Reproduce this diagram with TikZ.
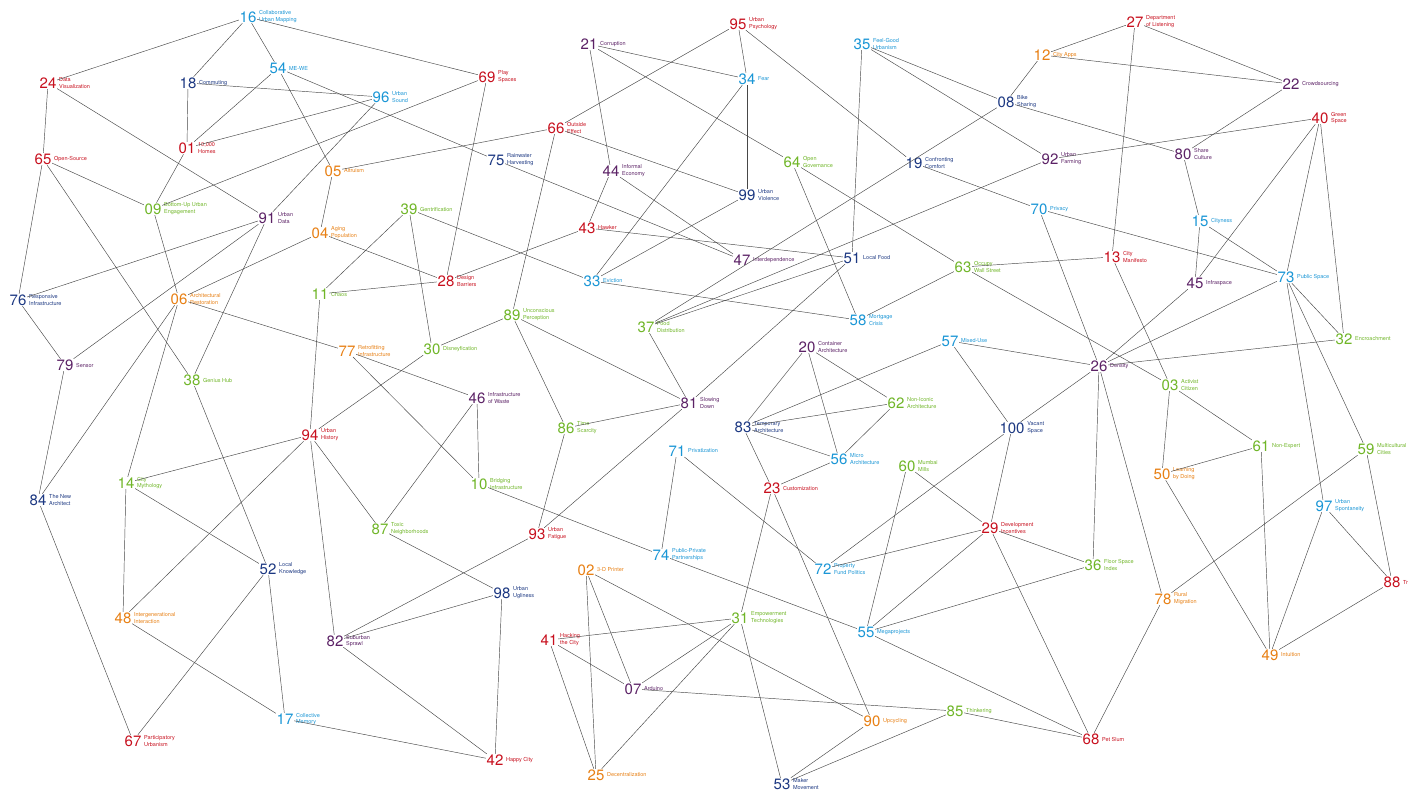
\documentclass[tikz,border=0pt]{standalone}
\usepackage{fontspec}
\setmainfont{TeX Gyre Heros}
\usetikzlibrary{positioning}
\definecolor{urbred}{RGB}{200,16,30}
\definecolor{urborange}{RGB}{232,128,20}
\definecolor{urbgreen}{RGB}{112,182,40}
\definecolor{urbcyan}{RGB}{26,150,214}
\definecolor{urbnavy}{RGB}{28,56,130}
\definecolor{urbpurple}{RGB}{92,34,102}
\newcommand{\trendnum}{\fontsize{15}{15}\selectfont}
\newcommand{\trendtag}{\fontsize{5.5}{6.9}\selectfont}
\tikzset{
  trend/.style={font=\trendnum, text=#1, inner sep=0.6pt},
  tag/.style={font=\trendtag, text=#1, align=left, inner sep=0pt, anchor=west},
  link/.style={draw=black!72, line width=0.45pt}
}

\begin{document}
\begin{tikzpicture}[x=1pt,y=-1pt]
  \useasboundingbox (0,0) rectangle (1409,791);
  \fill[white] (0,0) rectangle (1409,791);
  % trends
  \foreach \id/\x/\y/\c/\t in {
    01/187/148/urbred/{10,000\\Homes}, 02/586/570/urborange/{3-D Printer},
    03/1170/385/urbgreen/{Activist\\Citizen}, 04/320/233/urborange/{Aging\\Population},
    05/333/171/urborange/{Altruism}, 06/179/299/urborange/{Architectural\\Restoration},
    07/633/689/urbpurple/{Arduino}, 08/1006/102/urbnavy/{Bike\\Sharing},
    09/153/209/urbgreen/{Bottom-Up Urban\\Engagement}, 10/479/484/urbgreen/{Bridging\\Infrastructure},
    11/320/294/urbgreen/{Chaos}, 12/1042/55/urborange/{City Apps},
    13/1112/257/urbred/{City\\Manifesto}, 14/126/483/urbgreen/{City\\Mythology},
    15/1200/221/urbcyan/{Cityness}, 16/248/17/urbcyan/{Collaborative\\Urban Mapping},
    17/285/719/urbcyan/{Collective\\Memory}, 18/188/83/urbnavy/{Commuting},
    19/914/163/urbnavy/{Confronting\\Comfort}, 20/807/347/urbpurple/{Container\\Architecture},
    21/589/44/urbpurple/{Corruption}, 22/1291/84/urbpurple/{Crowdsourcing},
    23/772/488/urbred/{Customization}, 24/48/83/urbred/{Data\\Visualization},
    25/596/775/urborange/{Decentralization}, 26/1099/366/urbpurple/{Density},
    27/1135/22/urbred/{Department\\of Listening}, 28/446/281/urbred/{Design\\Barriers},
    29/990/528/urbred/{Development\\Incentives}, 30/432/349/urbgreen/{Disneyfication},
    31/740/618/urbgreen/{Empowerment\\Technologies}, 32/1344/339/urbgreen/{Encroachment},
    33/592/281/urbcyan/{Eviction}, 34/747/79/urbcyan/{Fear},
    35/862/44/urbcyan/{Feel-Good\\Urbanism}, 36/1093/565/urbgreen/{Floor Space\\Index},
    37/646/327/urbgreen/{Food\\Distribution}, 38/192/380/urbgreen/{Genius Hub},
    39/409/209/urbgreen/{Gentrification}, 40/1320/118/urbred/{Green\\Space},
    41/549/640/urbred/{Hacking\\the City}, 42/495/760/urbred/{Happy City},
    43/587/228/urbred/{Hawker}, 44/611/171/urbpurple/{Informal\\Economy},
    45/1195/283/urbpurple/{Infraspace}, 46/477/398/urbpurple/{Infrastructure\\of Waste},
    47/742/260/urbpurple/{Interdependence}, 48/123/618/urborange/{Intergenerational\\Interaction},
    49/1270/655/urborange/{Intuition}, 50/1162/474/urborange/{Learning\\by Doing},
    51/852/258/urbnavy/{Local Food}, 52/268/569/urbnavy/{Local\\Knowledge},
    53/782/784/urbnavy/{Maker\\Movement}, 54/278/68/urbcyan/{ME-WE},
    55/866/632/urbcyan/{Megaprojects}, 56/839/459/urbcyan/{Micro\\Architecture},
    57/950/341/urbcyan/{Mixed-Use}, 58/858/320/urbcyan/{Mortgage\\Crisis},
    59/1366/449/urbgreen/{Multicultural\\Cities}, 60/907/466/urbgreen/{Mumbai\\Mills},
    61/1261/446/urbgreen/{Non-Expert}, 62/896/403/urbgreen/{Non-Iconic\\Architecture},
    63/963/267/urbgreen/{Occupy\\Wall Street}, 64/792/162/urbgreen/{Open\\Governance},
    65/43/159/urbred/{Open-Source}, 66/556/128/urbred/{Outside\\Effect},
    67/133/741/urbred/{Participatory\\Urbanism}, 68/1091/739/urbred/{Pet Slum},
    69/487/77/urbred/{Play\\Spaces}, 70/1039/209/urbcyan/{Privacy},
    71/677/451/urbcyan/{Privatization}, 72/823/569/urbcyan/{Property\\Fund Politics},
    73/1286/277/urbcyan/{Public Space}, 74/661/555/urbcyan/{Public-Private\\Partnerships},
    75/496/160/urbnavy/{Rainwater\\Harvesting}, 76/18/300/urbnavy/{Responsive\\Infrastructure},
    77/347/351/urborange/{Retrofitting\\Infrastructure}, 78/1163/599/urborange/{Rural\\Migration},
    79/65/365/urbpurple/{Sensor}, 80/1183/154/urbpurple/{Share\\Culture},
    81/689/403/urbpurple/{Slowing\\Down}, 82/335/641/urbpurple/{Suburban\\Sprawl},
    83/743/427/urbnavy/{Temporary\\Architecture}, 84/38/500/urbnavy/{The New\\Architect},
    85/955/711/urbgreen/{Thinkering}, 86/566/428/urbgreen/{Time\\Scarcity},
    87/380/529/urbgreen/{Toxic\\Neighborhoods}, 88/1392/582/urbred/{Tr},
    89/512/315/urbgreen/{Unconscious\\Perception}, 90/872/721/urborange/{Upcycling},
    91/267/218/urbpurple/{Urban\\Data}, 92/1050/159/urbpurple/{Urban\\Farming},
    93/537/534/urbred/{Urban\\Fatigue}, 94/310/435/urbred/{Urban\\History},
    95/738/24/urbred/{Urban\\Psychology}, 96/381/97/urbcyan/{Urban\\Sound},
    97/1324/506/urbcyan/{Urban\\Spontaneity}, 98/502/593/urbnavy/{Urban\\Ugliness},
    99/747/195/urbnavy/{Urban\\Violence}, 100/1012/428/urbnavy/{Vacant\\Space}}
  {
    \node[trend=\c] (n\id) at (\x,\y) {\id};
    \node[tag=\c] at ([xshift=1.8pt]n\id.east) {\t};
  }
  % links
  \foreach \a/\b in {16/24, 16/18, 16/54, 16/69, 24/65, 24/91, 18/01, 18/96,
    54/01, 54/75, 54/05, 01/96, 01/09, 65/09, 65/38, 65/76, 09/69, 09/06,
    91/96, 91/76, 91/79, 91/38, 76/79, 79/84, 84/06, 84/67, 06/04, 06/77, 06/14,
    38/52, 11/94, 94/14, 94/48, 94/82, 94/87, 94/30, 14/48, 14/52,
    52/67, 52/17, 48/17, 17/42, 82/93, 82/98, 82/42, 87/98, 98/42,
    74/71, 10/74, 74/55, 02/25, 02/07, 02/90, 41/31, 41/07, 41/25,
    07/31, 07/85, 25/31, 23/31, 71/72, 23/90, 72/100, 72/29, 60/55, 55/29,
    55/36, 55/68, 29/68, 29/36, 85/68, 31/53, 90/53, 85/53,
    26/36, 70/26, 26/78, 78/59, 78/68, 50/49, 61/49, 97/49, 49/88, 97/88, 59/88,
    13/03, 15/45, 40/45, 15/73, 70/73, 40/73, 40/32, 73/32, 73/97, 73/59,
    73/26, 26/45, 26/32, 57/26, 26/100, 63/03, 03/50, 03/61, 50/61,
    27/12, 27/22, 27/13, 12/22, 22/80, 40/92, 08/80, 80/15, 63/13,
    66/95, 95/34, 95/19, 21/34, 21/64, 34/99, 34/33, 66/99, 99/33, 44/47,
    43/51, 37/08, 35/51, 35/08, 35/92, 12/08, 19/70, 64/58, 64/63, 63/58,
    21/44, 66/05, 66/89, 69/28, 75/47, 44/43, 43/28, 39/11, 39/30, 39/33,
    04/28, 11/28, 05/04, 30/89, 89/86, 89/81, 37/81, 86/81, 51/81, 81/93,
    51/37, 92/37, 77/46, 46/10, 46/87, 77/10, 86/93, 33/58,
    57/83, 83/62, 83/56, 83/20, 83/23, 20/56, 20/62, 62/56, 56/23,
    57/100, 100/29, 60/29}
    \draw[link] (n\a) -- (n\b);
\end{tikzpicture}
\end{document}
